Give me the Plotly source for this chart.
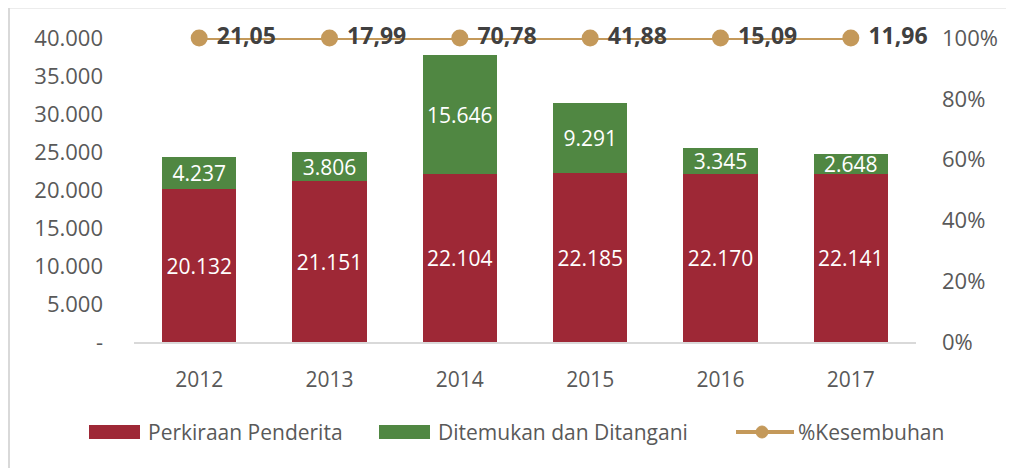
import plotly.graph_objects as go

# ---- data ----
years = ["2012", "2013", "2014", "2015", "2016", "2017"]
perkiraan = [20132, 21151, 22104, 22185, 22170, 22141]
ditemukan = [4237, 3806, 15646, 9291, 3345, 2648]
kesembuhan = [21.05, 17.99, 70.78, 41.88, 15.09, 11.96]

left_tickvals = [0, 5000, 10000, 15000, 20000, 25000, 30000, 35000, 40000]
left_ticktext = ["-", "5.000", "10.000", "15.000", "20.000", "25.000", "30.000", "35.000", "40.000"]
right_tickvals = [0, 0.2, 0.4, 0.6, 0.8, 1.0]

legend_names = ["Perkiraan Penderita", "Ditemukan dan Ditangani", "%Kesembuhan"]

# ---- style ----
RED = "#9E2836"
GREEN = "#508742"
TAN = "#C4995A"
GREY_TXT = "#595959"
FONT = "Open Sans"

OFF = 8  # page body offset
W, H = 1014, 468
L, T = 134 - OFF, 38 - OFF
R = W - (916 - OFF)
B = H - (342 - OFF)
PW, PH = W - L - R, H - T - B

def px(xs):
    return (xs - OFF - L) / PW

def py(ys):
    return (H - B - (ys - OFF)) / PH

# the percentage series is on a 0-100% axis; values above the axis max are
# clipped to the top of the axis (as in the original chart)
RIGHT_MAX = 1.0
kes_plot = [min(v, RIGHT_MAX) for v in kesembuhan]

fig = go.Figure()
fig.add_trace(go.Bar(
    x=years, y=perkiraan, name=legend_names[0], marker_color=RED,
    marker_line_width=0,
    texttemplate="%{y:,.0f}", textposition="inside", insidetextanchor="middle",
    textfont=dict(color="white", size=21, family=FONT), constraintext="none",
    showlegend=False,
))
fig.add_trace(go.Bar(
    x=years, y=ditemukan, name=legend_names[1], marker_color=GREEN,
    marker_line_width=0,
    texttemplate="%{y:,.0f}", textposition="inside", insidetextanchor="middle",
    textfont=dict(color="white", size=21, family=FONT), constraintext="none",
    showlegend=False,
))
fig.add_trace(go.Scatter(
    x=years, y=kes_plot, yaxis="y2", name=legend_names[2],
    mode="lines+markers+text",
    line=dict(color=TAN, width=4),
    marker=dict(color=TAN, size=17),
    customdata=kesembuhan,
    texttemplate=" %{customdata:.2f}", textposition="middle right",
    textfont=dict(color="#404040", size=23, family=FONT, weight="bold"),
    cliponaxis=False, showlegend=False,
))

fig.update_layout(
    width=W, height=H,
    margin=dict(l=L, r=R, t=T, b=B),
    paper_bgcolor="white", plot_bgcolor="white",
    separators=",.",
    barmode="stack", bargap=0.43,
    font=dict(family=FONT, color=GREY_TXT, size=21),
    xaxis=dict(showline=True, linecolor="#D9D9D9", linewidth=1.5,
               showgrid=False, ticks="", ticklabelstandoff=18,
               tickfont=dict(size=21, color=GREY_TXT)),
    yaxis=dict(range=[0, 40000], tickvals=left_tickvals, ticktext=left_ticktext,
               showgrid=False, zeroline=False, ticks="", ticklabelstandoff=30,
               tickfont=dict(size=22, color=GREY_TXT)),
    yaxis2=dict(range=[0, RIGHT_MAX], overlaying="y", side="right",
                tickvals=right_tickvals, tickformat=".0%",
                showgrid=False, zeroline=False, ticks="", ticklabelstandoff=25,
                tickfont=dict(size=22, color=GREY_TXT)),
    showlegend=False,
)

# outer frame (light grey border)
fig.add_shape(type="rect", xref="paper", yref="paper",
              x0=px(9), x1=px(1040), y0=py(490), y1=py(7.5),
              line=dict(color="#D9D9D9", width=2), fillcolor="rgba(0,0,0,0)",
              layer="below")

# custom legend
leg_y = 432
shapes = [
    dict(type="rect", x0=px(89), x1=px(140), y0=py(439), y1=py(425), fillcolor=RED),
    dict(type="rect", x0=px(379), x1=px(430), y0=py(439), y1=py(425), fillcolor=GREEN),
    dict(type="line", x0=px(736), x1=px(794), y0=py(leg_y), y1=py(leg_y),
         line=dict(color=TAN, width=4)),
    dict(type="circle", x0=px(756), x1=px(768), y0=py(leg_y + 6), y1=py(leg_y - 6),
         fillcolor=TAN, line=dict(color=TAN, width=1)),
]
for s in shapes:
    s.update(xref="paper", yref="paper")
    if s["type"] == "rect":
        s["line"] = dict(width=0)
    fig.add_shape(**s)

for name, xs in zip(legend_names, [146, 436, 796]):
    fig.add_annotation(xref="paper", yref="paper", x=px(xs), y=py(leg_y),
                       xanchor="left", yanchor="middle", showarrow=False,
                       text=name, font=dict(size=21, color=GREY_TXT, family=FONT))

fig.write_html("out.html")
